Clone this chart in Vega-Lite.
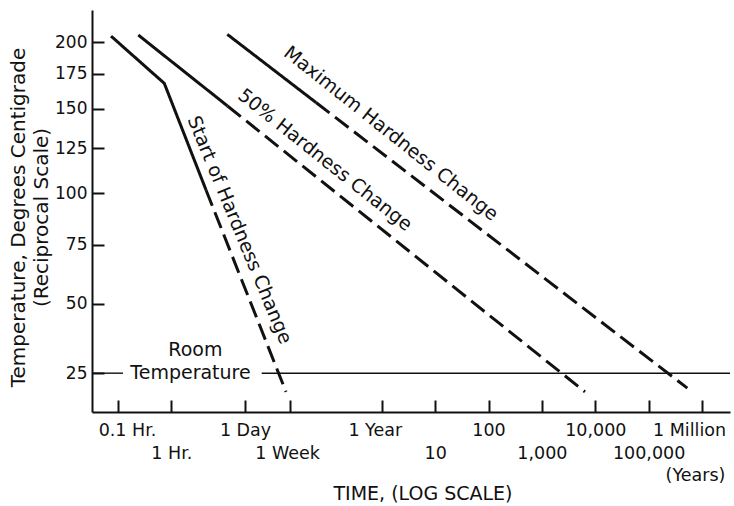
{
  "$schema": "https://vega.github.io/schema/vega-lite/v6.json",
  "width": 638,
  "height": 402,
  "autosize": {"type": "none"},
  "padding": {"left": 92, "top": 10, "right": 4, "bottom": 94},
  "background": "white",
  "config": {"view": {"stroke": null}, "font": "DejaVu Sans"},
  "layer": [
    {
      "data": {"values": [
        {"series": "start", "style": "solid", "hours": 0.074, "kelvin": 478.3},
        {"series": "start", "style": "solid", "hours": 0.737, "kelvin": 440.9},
        {"series": "start", "style": "solid", "hours": 4.456, "kelvin": 374.8},
        {"series": "start", "style": "dashed", "hours": 4.456, "kelvin": 374.8},
        {"series": "start", "style": "dashed", "hours": 140.6, "kelvin": 291.9},
        {"series": "half", "style": "solid", "hours": 0.24, "kelvin": 479.2},
        {"series": "half", "style": "solid", "hours": 11.27, "kelvin": 425.0},
        {"series": "half", "style": "dashed", "hours": 11.27, "kelvin": 425.0},
        {"series": "half", "style": "dashed", "hours": 56200000, "kelvin": 291.9},
        {"series": "max", "style": "solid", "hours": 11.17, "kelvin": 479.8},
        {"series": "max", "style": "solid", "hours": 512.9, "kelvin": 427.35},
        {"series": "max", "style": "dashed", "hours": 512.9, "kelvin": 427.35},
        {"series": "max", "style": "dashed", "hours": 4650000000, "kelvin": 293.1}
      ]},
      "mark": {"type": "line", "color": "#111", "strokeWidth": 3, "strokeCap": "butt"},
      "encoding": {
        "x": {
          "field": "hours", "type": "quantitative",
          "scale": {"type": "log", "domain": [0.03257, 29310000000], "nice": false},
          "axis": {
            "values": [0.1, 1, 24, 168, 8766, 87660, 876600, 8766000, 87660000, 876600000, 8766000000],
            "labelExpr": "datum.value < 0.5 ? '0.1 Hr.' : datum.value < 5 ? '1 Hr.' : datum.value < 50 ? '1 Day' : datum.value < 500 ? '1 Week' : datum.value < 50000 ? '1 Year' : datum.value < 500000 ? '10' : datum.value < 5000000 ? '100' : datum.value < 50000000 ? '1,000' : datum.value < 500000000 ? '10,000' : datum.value < 5000000000 ? '100,000' : '1 Million'",
            "grid": false,
            "tickSize": -12, "tickWidth": 2, "tickColor": "#111",
            "domainColor": "#111", "domainWidth": 2,
            "labelFont": "DejaVu Sans", "labelFontSize": 17.5, "labelColor": "#111",
            "labelFlush": false, "labelOverlap": false, "labelBound": false, "labelAngle": 0,
            "labelPadding": {"condition": {"test": "datum.value == 1 || datum.value == 168 || datum.value == 87660 || datum.value == 8766000 || datum.value == 876600000", "value": 44}, "value": 21.5},
            "labelOffset": {"condition": [
              {"test": "datum.value < 0.5", "value": 9},
              {"test": "datum.value > 5000000000", "value": -13},
              {"test": "datum.value > 5000 && datum.value < 50000", "value": -7},
              {"test": "datum.value > 100 && datum.value < 500", "value": -3}
            ], "value": 0},
            "title": "TIME, (LOG SCALE)",
            "titleFont": "DejaVu Sans", "titleFontSize": 19, "titleFontWeight": "normal", "titleColor": "#111",
            "titleX": 330.5, "titleY": 81, "titleBaseline": "middle", "titleAlign": "center"
          }
        },
        "y": {
          "field": "kelvin", "type": "quantitative",
          "scale": {"type": "pow", "exponent": -1, "domain": [285.6, 501.8], "nice": false, "zero": false},
          "axis": {
            "values": [298, 323, 348, 373, 398, 423, 448, 473],
            "labelExpr": "toString(datum.value - 273)",
            "grid": false,
            "tickSize": -12, "tickWidth": 2, "tickColor": "#111",
            "domainColor": "#111", "domainWidth": 2,
            "labelFont": "DejaVu Sans", "labelFontSize": 17, "labelColor": "#111",
            "labelPadding": 17, "labelFlush": false, "labelOverlap": false,
            "title": ["Temperature, Degrees Centigrade", "(Reciprocal Scale)"],
            "titleFont": "DejaVu Sans", "titleFontSize": 20, "titleFontWeight": "normal", "titleColor": "#111",
            "titleLineHeight": 23.3, "titleX": -74, "titleY": 207, "titleAngle": -90,
            "titleAlign": "center", "titleBaseline": "middle"
          }
        },
        "strokeDash": {
          "field": "style", "type": "nominal",
          "scale": {"domain": ["solid", "dashed"], "range": [[1, 0], [17, 7]]},
          "legend": null
        },
        "detail": {"field": "series"}
      }
    },
    {
      "data": {"values": [
        {"hours": 0.03257, "hours2": 0.124, "kelvin": 298},
        {"hours": 49.25, "hours2": 29310000000, "kelvin": 298}
      ]},
      "mark": {"type": "rule", "color": "#111", "strokeWidth": 1.4},
      "encoding": {
        "x": {"field": "hours", "type": "quantitative"},
        "x2": {"field": "hours2"},
        "y": {"field": "kelvin", "type": "quantitative"}
      }
    },
    {
      "data": {"values": [
        {"label": "Start of Hardness Change", "hours": 18.91, "kelvin": 354.8}
      ]},
      "mark": {"type": "text", "font": "DejaVu Sans", "fontSize": 19, "angle": 67.5, "align": "center", "baseline": "middle", "color": "#111"},
      "encoding": {
        "x": {"field": "hours", "type": "quantitative"},
        "y": {"field": "kelvin", "type": "quantitative"},
        "text": {"field": "label"}
      }
    },
    {
      "data": {"values": [
        {"label": "50% Hardness Change", "hours": 756, "kelvin": 391.3},
        {"label": "Maximum Hardness Change", "hours": 13040, "kelvin": 407.1}
      ]},
      "mark": {"type": "text", "font": "DejaVu Sans", "fontSize": 19, "angle": 38.5, "align": "center", "baseline": "middle", "color": "#111"},
      "encoding": {
        "x": {"field": "hours", "type": "quantitative"},
        "y": {"field": "kelvin", "type": "quantitative"},
        "text": {"field": "label"}
      }
    },
    {
      "data": {"values": [
        {"label": "Room", "hours": 2.82, "kelvin": 305.96},
        {"label": "Temperature", "hours": 2.283, "kelvin": 298}
      ]},
      "mark": {"type": "text", "font": "DejaVu Sans", "fontSize": 19, "align": "center", "baseline": "middle", "color": "#111"},
      "encoding": {
        "x": {"field": "hours", "type": "quantitative"},
        "y": {"field": "kelvin", "type": "quantitative"},
        "text": {"field": "label"}
      }
    },
    {
      "data": {"values": [
        {"label": "(Years)", "hours": 6620000000, "kelvin": 267.3}
      ]},
      "mark": {"type": "text", "font": "DejaVu Sans", "fontSize": 17.5, "align": "center", "baseline": "middle", "color": "#111"},
      "encoding": {
        "x": {"field": "hours", "type": "quantitative"},
        "y": {"field": "kelvin", "type": "quantitative"},
        "text": {"field": "label"}
      }
    }
  ]
}
